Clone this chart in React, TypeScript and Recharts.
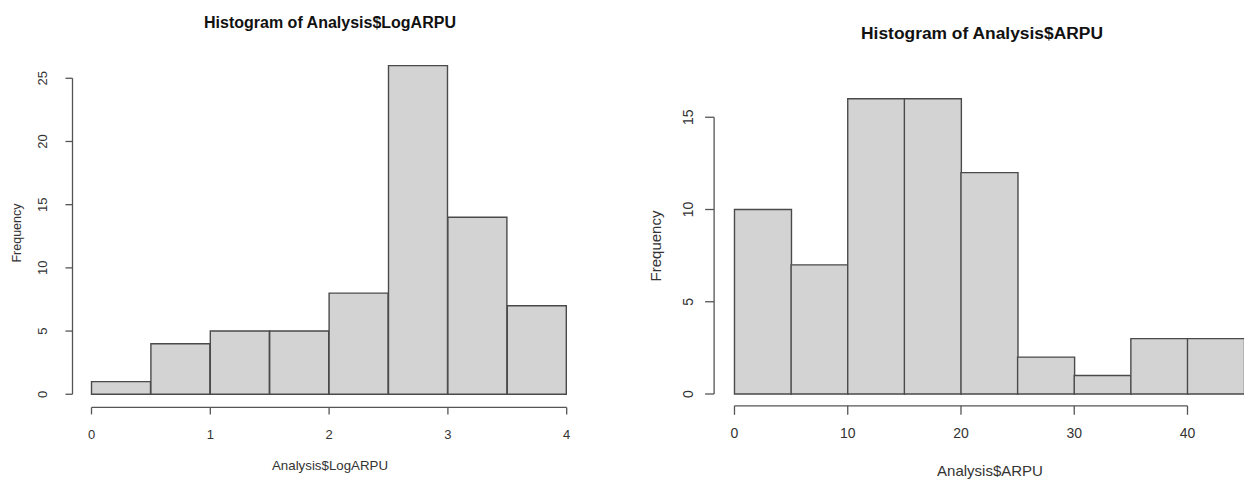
import React from 'react';
import { BarChart, Bar, XAxis, YAxis, ReferenceLine } from 'recharts';

// Left histogram: Analysis$LogARPU (bin width 0.5)
const logBinMids = [0.25, 0.75, 1.25, 1.75, 2.25, 2.75, 3.25, 3.75];
const logCounts = [1, 4, 5, 5, 8, 26, 14, 7];
const logXTicks = [0, 1, 2, 3, 4];
const logYTicks = [0, 5, 10, 15, 20, 25];
const logEdges = [0, 4];

// Right histogram: Analysis$ARPU (bin width 5)
const arpuBinMids = [2.5, 7.5, 12.5, 17.5, 22.5, 27.5, 32.5, 37.5, 42.5];
const arpuCounts = [10, 7, 16, 16, 12, 2, 1, 3, 3];
const arpuXTicks = [0, 10, 20, 30, 40];
const arpuYTicks = [0, 5, 10, 15];
const arpuEdges = [0, 45];

const FONT = '"Liberation Sans", Arial, sans-serif';
const BAR_FILL = '#d3d3d3';
const BAR_STROKE = '#4a4a4a';
const AXIS = '#555555';
const TEXT = '#333333';

type HistProps = {
  mids: number[];
  counts: number[];
  xTicks: number[];
  yTicks: number[];
  edges: number[];
  width: number;
  height: number;
  margin: { top: number; right: number; bottom: number; left: number };
  tickSize: number;
  fontSize: number;
  yLabelDx: number;
  xLabelDy: number;
};

function Histogram(p: HistProps) {
  const data = p.mids.map((m, i) => ({ mid: m, count: p.counts[i] }));
  const xPad = 0.04 * (p.edges[1] - p.edges[0]);
  const yMax = Math.max(...p.counts);
  const yPad = 0.04 * yMax;
  const xLo = p.edges[0] - xPad;
  const xHi = p.edges[1] + xPad;
  const yLo = -yPad;
  const yHi = yMax + yPad;
  const xt0 = p.xTicks[0];
  const xt1 = p.xTicks[p.xTicks.length - 1];
  const yt0 = p.yTicks[0];
  const yt1 = p.yTicks[p.yTicks.length - 1];

  const XTick = (props: any) => (
    <text
      x={props.x}
      y={props.y + p.xLabelDy}
      textAnchor="middle"
      dominantBaseline="central"
      fontSize={p.fontSize}
      fontFamily={FONT}
      fill={TEXT}
    >
      {props.payload.value}
    </text>
  );
  const YTick = (props: any) => {
    const cx = props.x + p.yLabelDx;
    const cy = props.y;
    return (
      <text
        x={cx}
        y={cy}
        transform={`rotate(-90 ${cx} ${cy})`}
        textAnchor="middle"
        dominantBaseline="central"
        fontSize={p.fontSize}
        fontFamily={FONT}
        fill={TEXT}
      >
        {props.payload.value}
      </text>
    );
  };

  return (
    <BarChart
      width={p.width}
      height={p.height}
      data={data}
      margin={p.margin}
      barCategoryGap={0}
      barGap={0}
    >
      <XAxis
        dataKey="mid"
        type="number"
        domain={[xLo, xHi]}
        ticks={p.xTicks}
        allowDataOverflow
        axisLine={false}
        tickLine={{ stroke: AXIS, strokeWidth: 1.3 }}
        tickSize={p.tickSize}
        tick={XTick}
        height={40}
        interval={0}
      />
      <YAxis
        type="number"
        domain={[yLo, yHi]}
        ticks={p.yTicks}
        allowDataOverflow
        axisLine={false}
        tickLine={{ stroke: AXIS, strokeWidth: 1.3 }}
        tickSize={p.tickSize}
        tick={YTick}
        width={60}
        interval={0}
      />
      <Bar
        dataKey="count"
        fill={BAR_FILL}
        stroke={BAR_STROKE}
        strokeWidth={1.4}
        isAnimationActive={false}
      />
      <ReferenceLine
        segment={[{ x: xt0, y: yLo }, { x: xt1, y: yLo }]}
        stroke={AXIS}
        strokeWidth={1.3}
        ifOverflow="visible"
      />
      <ReferenceLine
        segment={[{ x: xLo, y: yt0 }, { x: xLo, y: yt1 }]}
        stroke={AXIS}
        strokeWidth={1.3}
        ifOverflow="visible"
      />
    </BarChart>
  );
}

export default function App() {
  return (
    <div
      style={{
        position: 'absolute',
        left: 0,
        top: 0,
        width: 1244,
        height: 479,
        overflow: 'hidden',
        background: '#ffffff',
        fontFamily: FONT,
      }}
    >
      <div style={{ position: 'absolute', left: 0, top: 0 }}>
        <Histogram
          mids={logBinMids}
          counts={logCounts}
          xTicks={logXTicks}
          yTicks={logYTicks}
          edges={logEdges}
          width={620}
          height={479}
          margin={{ top: 52.5, right: 34.3, bottom: 31.6, left: 12.5 }}
          tickSize={7}
          fontSize={13}
          yLabelDx={-21}
          xLabelDy={17.6}
        />
      </div>
      <div style={{ position: 'absolute', left: 620, top: 0 }}>
        <Histogram
          mids={arpuBinMids}
          counts={arpuCounts}
          xTicks={arpuXTicks}
          yTicks={arpuYTicks}
          edges={arpuEdges}
          width={660}
          height={479}
          margin={{ top: 87, right: 15.5, bottom: 33.2, left: 34.1 }}
          tickSize={9}
          fontSize={14}
          yLabelDx={-15}
          xLabelDy={16.5}
        />
      </div>
      <svg
        width={1244}
        height={479}
        style={{ position: 'absolute', left: 0, top: 0, pointerEvents: 'none' }}
      >
        <text x={330} y={22} textAnchor="middle" dominantBaseline="central" fontSize={16} fontWeight="bold" fontFamily={FONT} fill="#111">
          Histogram of Analysis$LogARPU
        </text>
        <text x={982} y={33} textAnchor="middle" dominantBaseline="central" fontSize={17.4} fontWeight="bold" fontFamily={FONT} fill="#111">
          Histogram of Analysis$ARPU
        </text>
        <text x={17} y={233} transform="rotate(-90 17 233)" textAnchor="middle" dominantBaseline="central" fontSize={12.5} fontFamily={FONT} fill={TEXT}>
          Frequency
        </text>
        <text x={655} y={246} transform="rotate(-90 655 246)" textAnchor="middle" dominantBaseline="central" fontSize={15} fontFamily={FONT} fill={TEXT}>
          Frequency
        </text>
        <text x={330} y={465} textAnchor="middle" dominantBaseline="central" fontSize={13.3} fontFamily={FONT} fill={TEXT}>
          Analysis$LogARPU
        </text>
        <text x={990} y={470} textAnchor="middle" dominantBaseline="central" fontSize={15} fontFamily={FONT} fill={TEXT}>
          Analysis$ARPU
        </text>
      </svg>
    </div>
  );
}
